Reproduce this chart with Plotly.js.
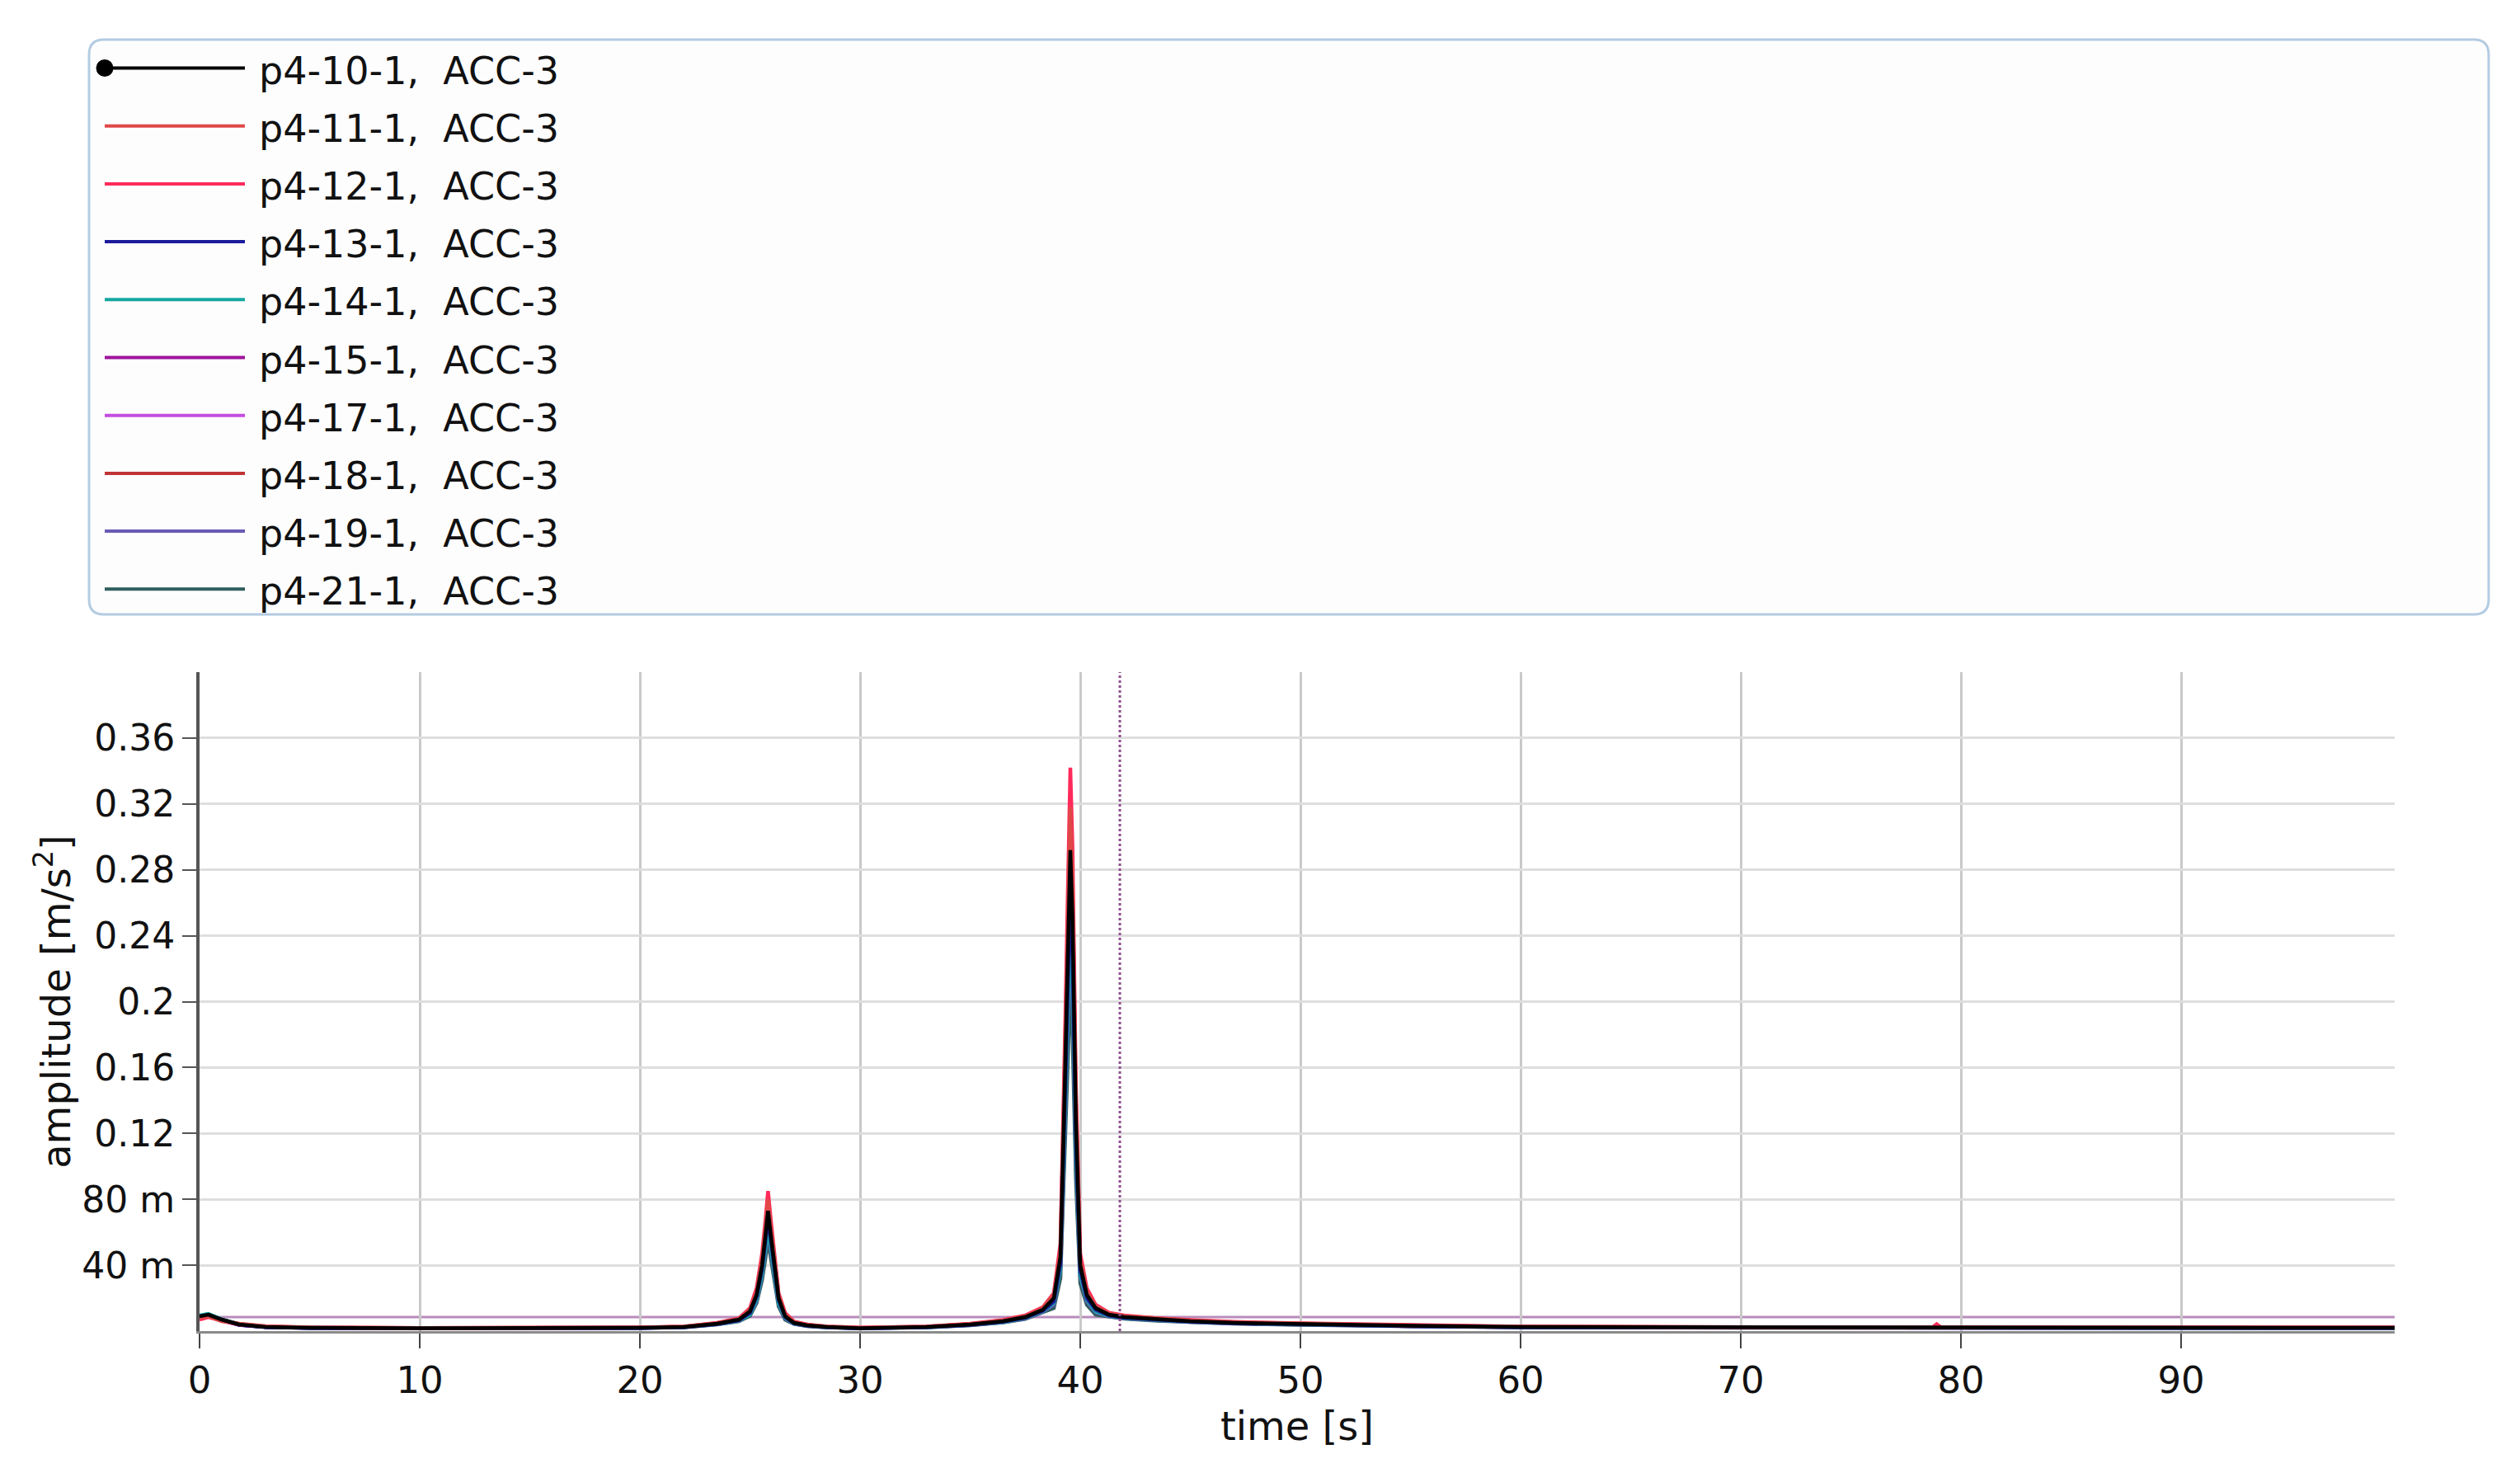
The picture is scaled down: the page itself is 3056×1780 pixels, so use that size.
<!DOCTYPE html>
<html>
<head>
<meta charset="utf-8">
<script src="https://cdn.plot.ly/plotly-3.0.1.min.js"></script>
<style>html,body{margin:0;padding:0;background:#fff;}#chart{width:3056px;height:1780px;}</style>
</head>
<body>
<div id="chart"></div>
<script>
// ---- data ----
const seriesNames = ["p4-10-1, ACC-3","p4-11-1, ACC-3","p4-12-1, ACC-3","p4-13-1, ACC-3","p4-14-1, ACC-3","p4-15-1, ACC-3","p4-17-1, ACC-3","p4-18-1, ACC-3","p4-19-1, ACC-3","p4-21-1, ACC-3"];
const seriesColors = ["#000000","#e04848","#ff2a5a","#1c1c9c","#16a6a0","#a0149c","#c44ce0","#c03434","#6a5ab4","#2e5e5c"];

const time = [0,0.4,1,1.8,3,5,10,15,20,22,23.5,24.5,
  25,25.3,25.55,25.7,25.82,25.95,26.1,26.3,26.6,
  27,27.6,28.5,30,33,35,36.5,37.5,38.3,
  38.8,39.1,39.3,39.45,39.55,39.65,39.8,40.0,40.3,40.7,
  41.3,42,43.5,45,47,50,55,60,70,78.7,78.9,79.1,85,95,99.7];

const p4_10_1 = [0.009,0.010,0.007,0.004,0.0025,0.002,0.0018,0.0018,0.002,0.0025,0.0045,0.007,
  0.012,0.022,0.040,0.058,0.073,0.058,0.040,0.020,0.009,
  0.005,0.0035,0.0025,0.0018,0.0025,0.004,0.006,0.0085,0.013,
  0.020,0.045,0.15,0.25,0.292,0.25,0.13,0.04,0.022,0.014,
  0.010,0.0085,0.007,0.006,0.005,0.0042,0.0032,0.0025,0.0022,0.002,0.002,0.002,0.002,0.002,0.002];
const p4_11_1 = [0.008,0.009,0.006,0.0045,0.003,0.0022,0.0019,0.0019,0.0021,0.0027,0.0048,0.0075,
  0.013,0.024,0.044,0.063,0.080,0.063,0.044,0.022,0.010,
  0.0055,0.0038,0.0027,0.002,0.0027,0.0043,0.0065,0.009,0.014,
  0.022,0.049,0.163,0.272,0.318,0.272,0.142,0.044,0.024,0.015,
  0.0108,0.0092,0.0076,0.0065,0.0054,0.0045,0.0034,0.0027,0.0023,0.0021,0.0021,0.0021,0.0021,0.0021,0.0021];
const p4_12_1 = [0.007,0.0085,0.0065,0.004,0.0028,0.0021,0.0019,0.002,0.0022,0.0028,0.005,0.0078,
  0.014,0.026,0.047,0.067,0.085,0.067,0.047,0.023,0.011,
  0.0058,0.004,0.0028,0.0021,0.0028,0.0045,0.0068,0.0095,0.0145,
  0.023,0.053,0.176,0.293,0.342,0.293,0.152,0.047,0.026,0.016,
  0.0112,0.0095,0.0078,0.0067,0.0056,0.0047,0.0035,0.0028,0.0024,0.0022,0.0042,0.0022,0.0022,0.0022,0.0022];
const p4_13_1 = [0.0085,0.0095,0.0068,0.0038,0.0024,0.0019,0.0017,0.0017,0.0019,0.0024,0.0043,0.0066,
  0.011,0.021,0.038,0.055,0.069,0.055,0.038,0.019,0.0085,
  0.0048,0.0033,0.0024,0.0017,0.0024,0.0038,0.0057,0.0081,0.0124,
  0.018,0.041,0.138,0.229,0.268,0.229,0.119,0.037,0.020,0.013,
  0.0095,0.0081,0.0067,0.0057,0.0048,0.004,0.003,0.0024,0.0021,0.0019,0.0019,0.0019,0.0019,0.0019,0.0019];
const p4_14_1 = [0.0095,0.0105,0.0072,0.0042,0.0026,0.002,0.0018,0.0018,0.002,0.0024,0.0042,0.0064,
  0.010,0.019,0.035,0.050,0.063,0.050,0.035,0.017,0.008,
  0.0046,0.0032,0.0023,0.0017,0.0023,0.0037,0.0055,0.0078,0.012,
  0.017,0.038,0.127,0.212,0.248,0.212,0.110,0.034,0.019,0.012,
  0.0092,0.0079,0.0065,0.0056,0.0047,0.0039,0.003,0.0024,0.0021,0.0019,0.0019,0.0019,0.0019,0.0019,0.0019];
const p4_15_1 = [0.0082,0.0092,0.0066,0.0039,0.0025,0.002,0.0018,0.0018,0.002,0.0025,0.0044,0.0068,
  0.011,0.020,0.037,0.053,0.067,0.053,0.037,0.018,0.0083,
  0.0047,0.0033,0.0024,0.0018,0.0024,0.0038,0.0057,0.008,0.0122,
  0.018,0.040,0.135,0.224,0.262,0.224,0.117,0.036,0.020,0.0126,
  0.0094,0.008,0.0066,0.0057,0.0048,0.004,0.003,0.0024,0.0021,0.002,0.002,0.002,0.002,0.0021,0.0022];
const p4_17_1 = [0.0078,0.009,0.0064,0.0038,0.0025,0.002,0.0018,0.0018,0.002,0.0025,0.0044,0.0069,
  0.0115,0.021,0.0385,0.055,0.070,0.055,0.0385,0.019,0.0086,
  0.0049,0.0034,0.0025,0.0018,0.0025,0.0039,0.0059,0.0083,0.0127,
  0.019,0.042,0.142,0.236,0.276,0.236,0.123,0.038,0.021,0.013,
  0.0098,0.0083,0.0069,0.006,0.005,0.0041,0.0031,0.0025,0.0022,0.002,0.002,0.002,0.002,0.002,0.002];
const p4_18_1 = [0.0088,0.0098,0.0069,0.0043,0.0028,0.0021,0.0019,0.0019,0.0021,0.0026,0.0047,0.0073,
  0.0128,0.023,0.043,0.062,0.078,0.062,0.043,0.021,0.0096,
  0.0053,0.0037,0.0026,0.0019,0.0026,0.0042,0.0063,0.0089,0.0136,
  0.021,0.047,0.157,0.261,0.305,0.261,0.136,0.042,0.023,0.0146,
  0.0104,0.0089,0.0073,0.0063,0.0052,0.0044,0.0033,0.0026,0.0023,0.0021,0.0021,0.0021,0.0021,0.0021,0.0021];
const p4_19_1 = [0.0086,0.0094,0.0067,0.0039,0.0025,0.0019,0.0017,0.0017,0.0019,0.0024,0.0041,0.0062,
  0.010,0.018,0.034,0.048,0.061,0.048,0.034,0.0165,0.0075,
  0.0045,0.0031,0.0023,0.0017,0.0023,0.0036,0.0054,0.0076,0.0117,
  0.016,0.037,0.122,0.204,0.238,0.204,0.106,0.033,0.018,0.0114,
  0.009,0.0077,0.0064,0.0055,0.0046,0.0038,0.0029,0.0023,0.002,0.0019,0.0019,0.0019,0.0019,0.0019,0.0019];
const p4_21_1 = [0.0092,0.0102,0.0071,0.0041,0.0025,0.0019,0.0017,0.0017,0.0019,0.0023,0.004,0.006,
  0.0092,0.017,0.031,0.044,0.056,0.044,0.031,0.015,0.0069,
  0.0043,0.003,0.0022,0.0017,0.0022,0.0035,0.0052,0.0073,0.0112,
  0.014,0.032,0.107,0.179,0.209,0.179,0.093,0.029,0.016,0.010,
  0.0087,0.0075,0.0062,0.0054,0.0045,0.0037,0.0029,0.0023,0.002,0.0019,0.0019,0.0019,0.0019,0.0019,0.0019];

const seriesValues = [p4_10_1,p4_11_1,p4_12_1,p4_13_1,p4_14_1,p4_15_1,p4_17_1,p4_18_1,p4_19_1,p4_21_1];

const thresholdLevel = 0.0085;   // horizontal reference line
const cursorTime = 41.8;         // vertical dotted cursor
const xTickVals = [0,10,20,30,40,50,60,70,80,90];
const yTickVals = [0.04,0.08,0.12,0.16,0.2,0.24,0.28,0.32,0.36];
const yTickText = ["40 m","80 m","0.12","0.16","0.2","0.24","0.28","0.32","0.36"];

// ---- layout geometry (pixels) ----
const W = 3056, H = 1780;
const mL = 242, mR = 152, mT = 815, mB = 166;
const plotW = W - mL - mR, plotH = H - mT - mB;
const px = v => (v - mL) / plotW;          // pixel x -> paper x
const py = v => (H - mB - v) / plotH;       // pixel y -> paper y

// draw the first series last so it lies on top
const traces = seriesValues.map((vals, i) => ({
  type: 'scatter', mode: 'lines', x: time, y: vals, name: seriesNames[i],
  line: {color: seriesColors[i], width: 4.5}, showlegend: false, hoverinfo: 'skip'
})).reverse();

const shapes = [];
const annotations = [];

// threshold + cursor
shapes.push({type:'line', xref:'paper', x0:0, x1:1, yref:'y', y0:thresholdLevel, y1:thresholdLevel,
  line:{color:'#b98cbc', width:3}, layer:'below'});
shapes.push({type:'line', xref:'x', x0:cursorTime, x1:cursorTime, yref:'paper', y0:0, y1:1,
  line:{color:'#8e4e8e', width:3, dash:'dot'}});

// legend box (rounded)
const bx0 = px(108), bx1 = px(3018), by0 = py(48), by1 = py(745);
const rx = 18 / plotW, ry = 18 / plotH;
shapes.push({type:'path', xref:'paper', yref:'paper',
  path: `M ${bx0+rx},${by0} L ${bx1-rx},${by0} Q ${bx1},${by0} ${bx1},${by0-ry} L ${bx1},${by1+ry} Q ${bx1},${by1} ${bx1-rx},${by1} L ${bx0+rx},${by1} Q ${bx0},${by1} ${bx0},${by1+ry} L ${bx0},${by0-ry} Q ${bx0},${by0} ${bx0+rx},${by0} Z`,
  line:{color:'#b4cce2', width:3}, fillcolor:'#fdfdfe', layer:'below'});

seriesNames.forEach((nm, i) => {
  const yy = 82.5 + i * 70.2;
  shapes.push({type:'line', xref:'paper', yref:'paper', x0:px(127), x1:px(297), y0:py(yy), y1:py(yy),
    line:{color: seriesColors[i], width: 4}});
  annotations.push({xref:'paper', yref:'paper', x:px(312), y:py(yy + 3), xanchor:'left', yanchor:'middle',
    text: nm.replace(', ', ',\u00a0 '), showarrow:false,
    font:{family:'DejaVu Sans, Verdana, sans-serif', size:46, color:'#111111'}});
});
// marker dot on first legend entry
shapes.push({type:'circle', xref:'paper', yref:'paper', x0:px(116.5), x1:px(137.5), y0:py(72), y1:py(93),
  fillcolor:'#000', line:{color:'#000', width:0}});

const layout = {
  width: W, height: H,
  margin: {l: mL, r: mR, t: mT, b: mB, pad: 0},
  paper_bgcolor: '#ffffff', plot_bgcolor: '#ffffff',
  showlegend: false,
  xaxis: {
    range: [0, 99.7], tickvals: xTickVals, ticktext: xTickVals.map(String),
    showgrid: true, gridcolor: '#c9c9c9', gridwidth: 3,
    zeroline: false, showline: true, linecolor: '#8a8a8a', linewidth: 3,
    ticks: 'outside', ticklen: 18, tickwidth: 2, tickcolor: '#444',
    tickfont: {family: 'DejaVu Sans, Verdana, sans-serif', size: 45, color: '#111111'},
    title: {text: 'time [s]', standoff: 14, font: {family: 'DejaVu Sans, Verdana, sans-serif', size: 48, color: '#111111'}},
    automargin: false
  },
  yaxis: {
    range: [0, 0.4], tickvals: yTickVals, ticktext: yTickText,
    showgrid: true, gridcolor: '#dedede', gridwidth: 3,
    zeroline: false, showline: true, linecolor: '#555555', linewidth: 4,
    ticks: 'outside', ticklen: 17, tickwidth: 2, tickcolor: '#555',
    tickfont: {family: 'DejaVu Sans, Verdana, sans-serif', size: 44, color: '#111111'},
    title: {text: 'amplitude [m/s<sup>2</sup>]', standoff: 0, font: {family: 'DejaVu Sans, Verdana, sans-serif', size: 48, color: '#111111'}},
    automargin: false
  },
  shapes: shapes,
  annotations: annotations
};

Plotly.newPlot('chart', traces, layout, {staticPlot: true, displayModeBar: false});
</script>
</body>
</html>
